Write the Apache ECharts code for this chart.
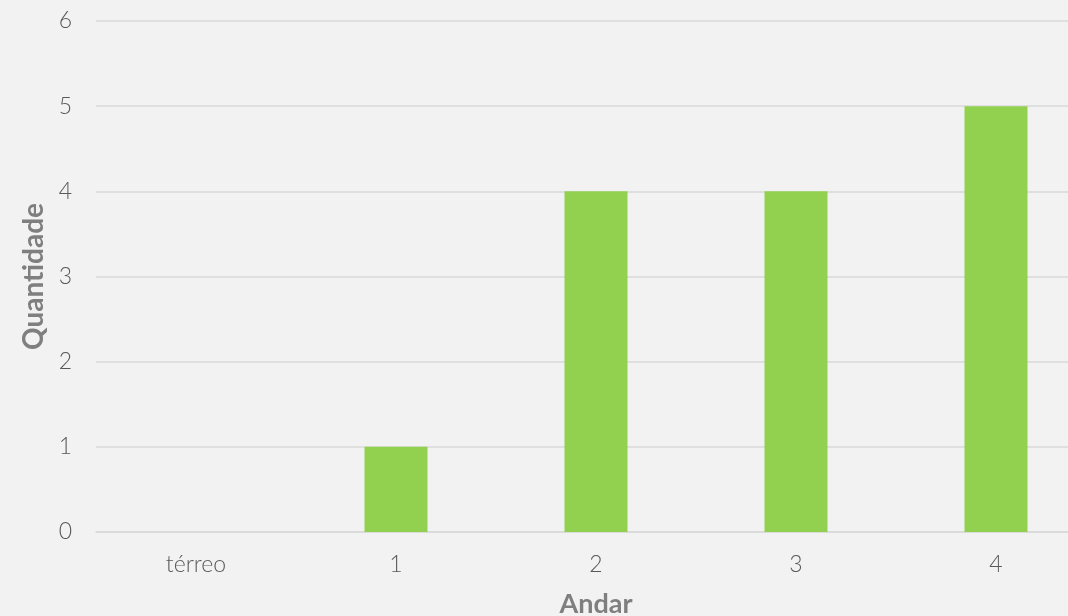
<!DOCTYPE html>
<html>
<head>
<meta charset="utf-8">
<script src="https://cdn.jsdelivr.net/npm/echarts@6/dist/echarts.min.js"></script>
<style>
  html, body { margin: 0; padding: 0; background: #f2f2f2; }
  #chart { width: 1068px; height: 616px; }
</style>
</head>
<body>
<div id="chart"></div>
<script>
// Number of units per floor
const floors = ['térreo', '1', '2', '3', '4'];
const quantities = [0, 1, 4, 4, 5];
const yTicks = [0, 1, 2, 3, 4, 5, 6];

const labelFont = 'Lato, "Open Sans", sans-serif';

const chart = echarts.init(document.getElementById('chart'));
chart.setOption({
  backgroundColor: '#f2f2f2',
  animation: false,
  grid: {
    left: 96, width: 1000, top: 21, bottom: 84,
    containLabel: false, outerBoundsMode: 'none'
  },
  xAxis: {
    type: 'category',
    data: floors,
    name: 'Andar',
    nameLocation: 'middle',
    nameGap: 59,
    nameTextStyle: { color: '#7f7f7f', fontSize: 27, fontWeight: 'bold', fontFamily: labelFont },
    axisLine: { show: true, lineStyle: { color: '#d9d9d9', width: 1.5 } },
    axisTick: { show: false },
    axisLabel: { color: '#595959', fontSize: 23, margin: 21, fontFamily: labelFont, fontWeight: 300 }
  },
  yAxis: {
    type: 'value',
    min: yTicks[0],
    max: yTicks[yTicks.length - 1],
    interval: 1,
    name: 'Quantidade',
    nameLocation: 'middle',
    nameGap: 46,
    nameTextStyle: { color: '#7f7f7f', fontSize: 28, fontWeight: 'bold', fontFamily: labelFont },
    axisLine: { show: false },
    axisTick: { show: false },
    axisLabel: { color: '#595959', fontSize: 23, margin: 24, fontFamily: labelFont, fontWeight: 300 },
    splitLine: { lineStyle: { color: '#d9d9d9', width: 1.5 } }
  },
  series: [{
    type: 'bar',
    data: quantities,
    barWidth: 63,
    itemStyle: { color: '#92d050' }
  }]
});
</script>
</body>
</html>
